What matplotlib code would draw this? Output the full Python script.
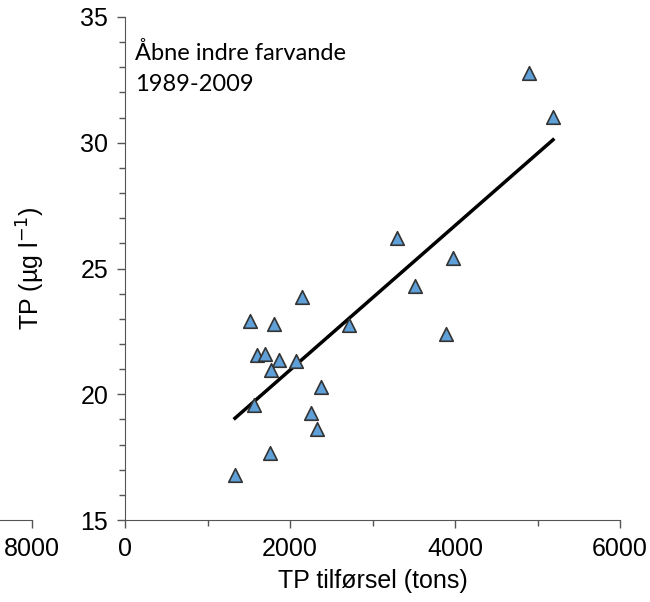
import numpy as np
import matplotlib
matplotlib.use('Agg')
import matplotlib.pyplot as plt
from matplotlib.ticker import MultipleLocator

# TP load (tons) and TP concentration (ug/l), 1989-2009
tp_load = [4897, 5188, 3297, 3976, 3515, 3891, 2145, 1515, 1806, 2715, 1600,
           1697, 1867, 2073, 1770, 2376, 1564, 2255, 2327, 1758, 1333]
tp_conc = [32.77, 31.02, 26.21, 25.42, 24.30, 22.40, 23.87, 22.91, 22.79, 22.75, 21.56,
           21.60, 21.36, 21.32, 20.96, 20.29, 19.57, 19.25, 18.62, 17.66, 16.79]

plt.rcParams['font.family'] = ['Liberation Sans', 'DejaVu Sans']

fig = plt.figure(figsize=(6.5, 6.02), dpi=100)
W, H = 650, 602

def style(ax):
    ax.spines['top'].set_visible(False)
    ax.spines['right'].set_visible(False)
    ax.tick_params(which='major', direction='out', length=6, width=1, labelsize=18,
                   color='#555555', pad=6)
    ax.tick_params(which='minor', direction='out', length=4, width=1, color='#555555')
    for s in ('left', 'bottom'):
        ax.spines[s].set_color('#555555')

# neighbouring panel, only its x axis end shows at the left edge
nb = fig.add_axes([(32 - 495) / W, 1 - 520 / H, 495 / W, 503 / H])
style(nb)
nb.set_xlim(0, 8000)
nb.xaxis.set_major_locator(MultipleLocator(2000))
nb.xaxis.set_minor_locator(MultipleLocator(1000))
nb.spines['left'].set_visible(False)
nb.set_yticks([])
nb.patch.set_alpha(0)

ax = fig.add_axes([125 / W, 1 - 520 / H, 495 / W, 503 / H])
style(ax)
ax.patch.set_alpha(0)
ax.set_xlim(0, 6000)
ax.set_ylim(15, 35)
ax.xaxis.set_major_locator(MultipleLocator(2000))
ax.xaxis.set_minor_locator(MultipleLocator(1000))
ax.yaxis.set_major_locator(MultipleLocator(5))
ax.yaxis.set_minor_locator(MultipleLocator(1))

x = np.array(tp_load)
y = np.array(tp_conc)
slope, icpt = np.polyfit(x, y, 1)
xl = np.array([x.min(), x.max()])
ax.plot(xl, slope * xl + icpt, color='black', lw=2.5, zorder=2)

ax.scatter(x, y, marker='^', s=95, facecolor='#5fa0d8', edgecolor='#333333',
           linewidth=1.2, zorder=3, clip_on=False)

ax.set_xlabel('TP tilførsel (tons)', fontsize=18, labelpad=6)
ax.set_ylabel('TP (µg l$^{-1}$)', fontsize=18, labelpad=24)

ax.text(0.02, 0.95, 'Åbne indre farvande\n1989-2009', transform=ax.transAxes,
        ha='left', va='top', fontsize=17, family='Lato', linespacing=1.6)

fig.savefig('out.png', dpi=100)
